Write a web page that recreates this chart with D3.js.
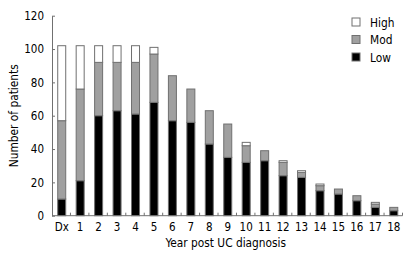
<!DOCTYPE html>
<html>
<head>
<meta charset="utf-8">
<script src="https://cdn.jsdelivr.net/npm/d3@7"></script>
<style>
  body { margin: 0; background: #fff; }
  svg text { font-family: "DejaVu Sans Condensed", "DejaVu Sans", sans-serif; fill: #000; }
</style>
</head>
<body>
<svg id="chart"></svg>
<script>
let width = 414, height = 261;

// data: patients per year, split by level
let years = ["Dx", "1", "2", "3", "4", "5", "6", "7", "8", "9", "10", "11", "12", "13", "14", "15", "16", "17", "18"];
let low  = [10, 21, 60, 63, 61, 68, 57, 56, 43, 35, 32, 33, 24, 23, 15, 13, 9, 5, 3];
let mod  = [47, 55, 32, 29, 31, 29, 27, 20, 20, 20, 10, 6, 8, 3, 3, 3, 3, 2, 2];
let high = [45, 26, 10, 10, 10, 4, 0, 0, 0, 0, 2, 0, 1, 1, 1, 0, 0, 1, 0];
let yTicks = [0, 20, 40, 60, 80, 100, 120];
let levels = ["Low", "Mod", "High"];
let colors = {Low: "#000000", Mod: "#a0a0a0", High: "#ffffff"};

let svg = d3.select("#chart")
  .attr("width", width)
  .attr("height", height);

let left = 52, right = 11.5, top_sp = 15.7, bottom = 45.3;

let xax = d3.scaleBand()
  .domain(years)
  .range([left, width - right]);
let yax = d3.scaleLinear()
  .domain([0, 120])
  .range([height - bottom, top_sp]);

let rows = years.map((y, i) => ({year: y, Low: low[i], Mod: mod[i], High: high[i]}));
let stacked = d3.stack().keys(levels)(rows);

let barW = 8;
let offs = (xax.step() - barW) / 2 + 0.5;

svg.append("g")
  .selectAll("g")
  .data(stacked)
  .join("g")
  .attr("fill", d => colors[d.key])
  .selectAll("rect")
  .data(d => d.filter(s => s[1] - s[0] > 0))
  .join("rect")
  .attr("x", d => xax(d.data.year) + offs)
  .attr("y", d => yax(d[1]))
  .attr("width", barW)
  .attr("height", d => yax(d[0]) - yax(d[1]))
  .attr("stroke", "#707070")
  .attr("stroke-width", 1);

// y axis, ticks pointing inward
let yax_draw = d3.axisLeft(yax)
  .tickValues(yTicks)
  .tickSizeInner(-3)
  .tickSizeOuter(0)
  .tickPadding(8);
let gy = svg.append("g")
  .attr("class", "axis")
  .attr("transform", `translate(${left}, 0)`)
  .call(yax_draw);

// x axis: ticks between bars, pointing up
let gx = svg.append("g")
  .attr("class", "axis")
  .attr("transform", `translate(0, ${height - bottom})`);
gx.append("line")
  .attr("x1", left).attr("x2", width - right)
  .attr("stroke", "#707070");
gx.selectAll(".tk")
  .data(years.slice(1).concat(["end"]))
  .join("line")
  .attr("class", "tk")
  .attr("x1", d => d === "end" ? width - right : xax(d))
  .attr("x2", d => d === "end" ? width - right : xax(d))
  .attr("y1", 0).attr("y2", -3)
  .attr("stroke", "#707070");
gx.selectAll(".lbl")
  .data(years)
  .join("text")
  .attr("class", "lbl")
  .attr("x", d => xax(d) + xax.step() / 2 + 0.5)
  .attr("y", 15.2)
  .attr("text-anchor", "middle")
  .attr("font-size", 11.5)
  .text(d => d);

gy.select(".domain").attr("stroke", "#707070");
gy.selectAll(".tick line").attr("stroke", "#707070");
gy.selectAll(".tick text").attr("font-size", 11.5).attr("font-family", null);

svg.append("text")
  .text("Number of patients")
  .attr("text-anchor", "middle")
  .attr("font-size", 11.8)
  .attr("transform", `translate(18, ${(top_sp + height - bottom) / 2}) rotate(-90)`);

svg.append("text")
  .text("Year post UC diagnosis")
  .attr("text-anchor", "middle")
  .attr("font-size", 11.8)
  .attr("x", (left + width - right) / 2 - 1.5)
  .attr("y", 246.5);

// legend
let legendItems = ["High", "Mod", "Low"];
let lg = svg.append("g")
  .attr("transform", "translate(352, 18)");
let li = lg.selectAll("g")
  .data(legendItems)
  .join("g")
  .attr("transform", (d, i) => `translate(0, ${i * 17.5})`);
li.append("rect")
  .attr("width", 8)
  .attr("height", 8)
  .attr("fill", d => colors[d])
  .attr("stroke", "#707070");
li.append("text")
  .attr("x", 18)
  .attr("y", 8.5)
  .attr("font-size", 11.8)
  .text(d => d);
</script>
</body>
</html>
